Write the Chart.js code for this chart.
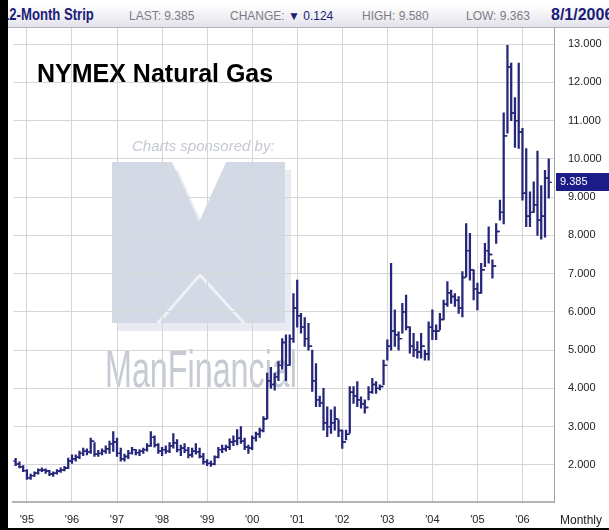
<!DOCTYPE html>
<html>
<head>
<meta charset="utf-8">
<script src="https://cdn.jsdelivr.net/npm/chart.js@4.4.0/dist/chart.umd.min.js"></script>
<style>
html, body { margin: 0; padding: 0; background: #fff; }
#wrap { position: relative; width: 609px; height: 530px; background: #000; overflow: hidden; }
#box { position: absolute; left: 8px; top: 0; width: 601px; height: 528px; background: #fff; overflow: hidden; }
#chart { position: absolute; left: 0; top: 0; }
#head { position: absolute; left: 0; top: 5px; width: 601px; height: 22px; background: linear-gradient(#ffffff, #e2e2ea); border-bottom: 1px solid #b0b0c0; overflow: hidden; white-space: nowrap; }
#head span { position: absolute; top: 4px; font-family: "Liberation Sans", Arial, sans-serif; font-size: 12px; color: #7c7c84; }
#head .big { top: 1px; font-size: 16px; font-weight: bold; color: #1c1c78; transform-origin: 0 0; transform: scaleX(0.82); }
#head .date { transform: none; }
#head .blue { color: #1c1c78; position: static; font-size: 12px; }
#title { position: absolute; left: 29px; top: 61px; font-family: "Liberation Sans", Arial, sans-serif; font-size: 25px; line-height: 25px; font-weight: bold; color: #000; }
#monthly { position: absolute; left: 552px; top: 513px; font-family: "Liberation Sans", Arial, sans-serif; font-size: 12px; color: #222; }
</style>
</head>
<body>
<div id="wrap">
  <div id="box">
    <canvas id="chart" width="601" height="528"></canvas>
    <div id="head">
      <span class="big" style="left:-6px">12-Month Strip</span>
      <span style="left:121px">LAST: 9.385</span>
      <span style="left:222px">CHANGE: <span class="blue">&#9660; 0.124</span></span>
      <span style="left:354px">HIGH: 9.580</span>
      <span style="left:458px">LOW: 9.363</span>
      <span class="big date" style="left:543px">8/1/2006</span>
    </div>
    <div id="title">NYMEX Natural Gas</div>
    <div id="monthly">Monthly</div>
  </div>
</div>
<script>
// months counted from Jan 1995; the first bar is Oct 1994
const firstMonth = -3;

const yearTicks = [0, 12, 24, 36, 48, 60, 72, 84, 96, 108, 120, 132];
const yearLabels = ["'95", "'96", "'97", "'98", "'99", "'00", "'01", "'02", "'03", "'04", "'05", "'06"];
const priceTicks = [2, 3, 4, 5, 6, 7, 8, 9, 10, 11, 12, 13];

// monthly OHLC of the 12-month strip, Oct 1994 .. Aug 2006
const highs = [
  2.17, 2.08, 1.98,
  1.88, 1.76, 1.82, 1.90, 1.92, 1.90, 1.86, 1.82, 1.88, 1.92, 1.96, 2.18,
  2.26, 2.26, 2.36, 2.44, 2.42, 2.70, 2.58, 2.38, 2.42, 2.50, 2.62, 2.87,
  2.70, 2.44, 2.28, 2.38, 2.46, 2.40, 2.40, 2.44, 2.56, 2.87, 2.76, 2.56,
  2.46, 2.50, 2.58, 2.82, 2.66, 2.52, 2.56, 2.46, 2.44, 2.56, 2.44, 2.30,
  2.14, 2.10, 2.24, 2.46, 2.52, 2.52, 2.68, 2.76, 2.92, 3.00, 2.70, 2.52,
  2.76, 2.86, 2.96, 3.26, 4.40, 4.55, 4.40, 4.70, 5.30, 5.40, 5.40, 6.48,
  6.83, 5.96, 5.85, 5.70, 5.00, 4.65, 3.80, 4.00, 3.52, 3.44, 3.52, 3.18,
  2.91, 2.91, 4.05, 4.05, 4.18, 3.78, 3.70, 4.05, 4.26, 4.18, 4.09, 4.74,
  5.27, 7.27, 6.05, 5.48, 6.22, 6.44, 5.61, 5.44, 5.22, 5.44, 5.00, 5.74,
  6.05, 5.66, 5.96, 6.31, 6.79, 6.57, 6.48, 6.40, 7.05, 8.31, 8.05, 7.10,
  6.75, 7.27, 7.79, 8.22, 7.36, 8.31, 8.92, 11.20, 12.97, 12.50, 11.60, 12.50,
  10.80, 10.27, 9.14, 9.40, 10.20, 9.30, 9.70, 10.00
];
const lows = [
  1.98, 1.92, 1.82,
  1.62, 1.62, 1.70, 1.76, 1.82, 1.78, 1.72, 1.70, 1.76, 1.80, 1.84, 1.90,
  2.04, 2.10, 2.16, 2.24, 2.26, 2.30, 2.22, 2.22, 2.26, 2.30, 2.30, 2.35,
  2.22, 2.10, 2.10, 2.16, 2.28, 2.26, 2.24, 2.30, 2.36, 2.48, 2.46, 2.30,
  2.24, 2.30, 2.32, 2.44, 2.34, 2.24, 2.32, 2.18, 2.20, 2.28, 2.18, 2.02,
  1.98, 1.96, 2.00, 2.18, 2.32, 2.36, 2.40, 2.50, 2.52, 2.56, 2.40, 2.30,
  2.40, 2.62, 2.72, 2.86, 3.20, 4.00, 3.95, 4.20, 4.50, 4.20, 4.60, 5.20,
  5.60, 5.44, 5.10, 5.00, 3.92, 3.52, 3.52, 2.91, 2.74, 2.82, 2.91, 2.74,
  2.43, 2.65, 2.83, 3.61, 3.52, 3.48, 3.35, 3.70, 3.87, 3.87, 3.96, 4.10,
  4.74, 5.00, 5.10, 5.00, 5.44, 5.53, 4.92, 4.83, 4.79, 4.79, 4.74, 4.74,
  5.27, 5.27, 5.53, 5.79, 6.14, 6.22, 6.14, 5.96, 5.87, 6.92, 6.83, 6.31,
  6.05, 6.48, 7.18, 7.27, 6.88, 7.79, 8.40, 8.30, 10.67, 11.00, 10.30, 10.27,
  8.92, 8.23, 8.23, 8.60, 8.00, 7.90, 7.95, 8.97
];
const opens = [
  2.10, 2.02, 1.95,
  1.85, 1.66, 1.72, 1.78, 1.86, 1.86, 1.84, 1.76, 1.78, 1.84, 1.86, 1.92,
  2.10, 2.16, 2.20, 2.30, 2.36, 2.34, 2.62, 2.28, 2.30, 2.36, 2.42, 2.55,
  2.60, 2.30, 2.16, 2.22, 2.30, 2.40, 2.32, 2.36, 2.40, 2.50, 2.72, 2.52,
  2.36, 2.40, 2.36, 2.50, 2.58, 2.40, 2.44, 2.38, 2.26, 2.36, 2.34, 2.22,
  2.08, 2.04, 2.02, 2.20, 2.40, 2.42, 2.46, 2.60, 2.62, 2.70, 2.62, 2.46,
  2.44, 2.70, 2.80, 2.90, 3.20, 4.20, 4.10, 4.30, 4.60, 5.20, 4.60, 5.30,
  6.10, 5.90, 5.60, 5.30, 5.10, 4.20, 3.70, 3.62, 3.10, 3.00, 3.10, 3.20,
  2.90, 2.60, 2.80, 3.90, 3.80, 3.70, 3.60, 3.50, 3.90, 4.10, 4.00, 4.05,
  4.60, 5.10, 5.50, 5.40, 5.30, 6.00, 5.60, 5.10, 5.00, 4.95, 5.10, 4.90,
  5.60, 5.50, 5.50, 5.80, 6.20, 6.50, 6.40, 6.30, 6.10, 6.90, 7.60, 7.10,
  6.60, 6.50, 7.10, 7.60, 7.50, 7.20, 8.10, 8.60, 10.60, 12.40, 11.20, 11.00,
  10.70, 9.10, 8.50, 8.60, 8.80, 8.40, 8.50, 9.50
];
const closes = [
  2.02, 1.95, 1.85,
  1.66, 1.72, 1.78, 1.86, 1.86, 1.84, 1.76, 1.78, 1.84, 1.86, 1.92, 2.10,
  2.16, 2.20, 2.30, 2.36, 2.34, 2.62, 2.28, 2.30, 2.36, 2.42, 2.55, 2.60,
  2.30, 2.16, 2.22, 2.30, 2.40, 2.32, 2.36, 2.40, 2.50, 2.72, 2.52, 2.36,
  2.40, 2.36, 2.50, 2.58, 2.40, 2.44, 2.38, 2.26, 2.36, 2.34, 2.22, 2.08,
  2.04, 2.02, 2.20, 2.40, 2.42, 2.46, 2.60, 2.62, 2.70, 2.62, 2.46, 2.44,
  2.70, 2.80, 2.90, 3.20, 4.20, 4.10, 4.30, 4.60, 5.20, 4.60, 5.30, 6.10,
  5.90, 5.60, 5.30, 5.10, 4.20, 3.70, 3.62, 3.10, 3.00, 3.10, 3.20, 2.90,
  2.60, 2.80, 3.90, 3.80, 3.70, 3.60, 3.50, 3.90, 4.10, 4.00, 4.05, 4.60,
  5.10, 5.50, 5.40, 5.30, 6.00, 5.60, 5.10, 5.00, 4.95, 5.10, 4.90, 5.60,
  5.50, 5.50, 5.80, 6.20, 6.50, 6.40, 6.30, 6.10, 6.90, 7.60, 7.10, 6.60,
  6.50, 7.10, 7.60, 7.50, 7.20, 8.10, 8.60, 10.60, 12.40, 11.20, 11.00, 10.70,
  9.10, 8.50, 8.60, 8.80, 8.40, 8.50, 9.50, 9.385
];

const navy = '#26267a';

const rangeData = highs.map((h, i) => ({ x: firstMonth + i, y: [lows[i], h] }));
const openData = opens.map((o, i) => ({ x: firstMonth + i - 0.42, y: o }));
const closeData = closes.map((c, i) => ({ x: firstMonth + i + 0.42, y: c }));

// sponsor watermark drawn under the grid
const watermark = {
  id: 'watermark',
  beforeDraw(chart) {
    const ctx = chart.ctx;
    ctx.save();
    ctx.fillStyle = '#c4c8d2';
    ctx.font = 'italic 15px "Liberation Sans", Arial, sans-serif';
    ctx.fillText('Charts sponsored by:', 124, 151);

    // block "M": solid body with a V notch at the top
    const m = [[104,162],[164,162],[191,222],[218,162],[277,162],[277,323],[104,323]];
    const poly = (dx, dy) => {
      ctx.beginPath();
      m.forEach((p, i) => i ? ctx.lineTo(p[0] + dx, p[1] + dy) : ctx.moveTo(p[0] + dx, p[1] + dy));
      ctx.closePath();
      ctx.fill();
    };
    ctx.fillStyle = '#e8ebf2';
    poly(6, 8);
    ctx.fillStyle = '#d3dae6';
    poly(0, 0);
    // light chevron between the legs
    ctx.strokeStyle = '#eef1f6';
    ctx.lineWidth = 3;
    ctx.beginPath();
    ctx.moveTo(150, 323);
    ctx.lineTo(192, 275);
    ctx.lineTo(236, 323);
    ctx.stroke();

    ctx.fillStyle = '#c6cad2';
    ctx.font = '52px "Liberation Sans", Arial, sans-serif';
    const w = ctx.measureText('ManFinancial').width;
    ctx.translate(97, 387);
    ctx.scale(192 / w, 1);
    ctx.fillText('ManFinancial', 0, 0);
    ctx.restore();
  }
};

// last price flag on the right axis
const lastFlag = {
  id: 'lastFlag',
  afterDraw(chart) {
    const ctx = chart.ctx;
    const last = closes[closes.length - 1];
    const y = chart.scales.y.getPixelForValue(last);
    ctx.save();
    ctx.fillStyle = '#1c1c88';
    ctx.fillRect(548, Math.round(y) - 9, 53, 18);
    ctx.fillStyle = '#fff';
    ctx.font = '11px "Liberation Sans", Arial, sans-serif';
    ctx.textBaseline = 'middle';
    ctx.fillText(last.toFixed(3), 552, Math.round(y));
    ctx.restore();
  }
};

new Chart(document.getElementById('chart'), {
  type: 'bar',
  data: {
    datasets: [
      { type: 'bar', data: rangeData, backgroundColor: navy, barThickness: 1.6, grouped: false },
      { type: 'scatter', data: openData, pointStyle: 'line', radius: 1.6, borderWidth: 1.4, borderColor: navy },
      { type: 'scatter', data: closeData, pointStyle: 'line', radius: 1.6, borderWidth: 1.4, borderColor: navy }
    ]
  },
  options: {
    responsive: false,
    animation: false,
    layout: { padding: { left: 0, right: 0, top: 28, bottom: 0 } },
    plugins: { legend: { display: false }, tooltip: { enabled: false } },
    scales: {
      x: {
        type: 'linear',
        min: -3.6,
        max: 140.4,
        offset: false,
        afterBuildTicks: s => { s.ticks = yearTicks.map(v => ({ value: v })); },
        afterFit: s => { s.height = 26; },
        grid: { color: '#d6d6d6', drawTicks: false, offset: false },
        border: { color: '#b4b4b4', width: 2 },
        ticks: {
          autoSkip: false, maxRotation: 0, padding: 11, color: '#222',
          font: { family: '"Liberation Sans", Arial, sans-serif', size: 11 },
          callback: (v, i) => yearLabels[i]
        }
      },
      y: {
        type: 'linear',
        position: 'right',
        min: 1.03,
        max: 13.42,
        afterBuildTicks: s => { s.ticks = priceTicks.map(v => ({ value: v })); },
        afterFit: s => { s.width = 55; },
        grid: { color: '#d6d6d6', drawTicks: false },
        border: { color: '#a4a4a4', width: 1 },
        ticks: {
          padding: 14, color: '#222',
          font: { family: '"Liberation Sans", Arial, sans-serif', size: 11 },
          callback: v => v.toFixed(3)
        }
      }
    }
  },
  plugins: [watermark, lastFlag]
});
</script>
</body>
</html>
